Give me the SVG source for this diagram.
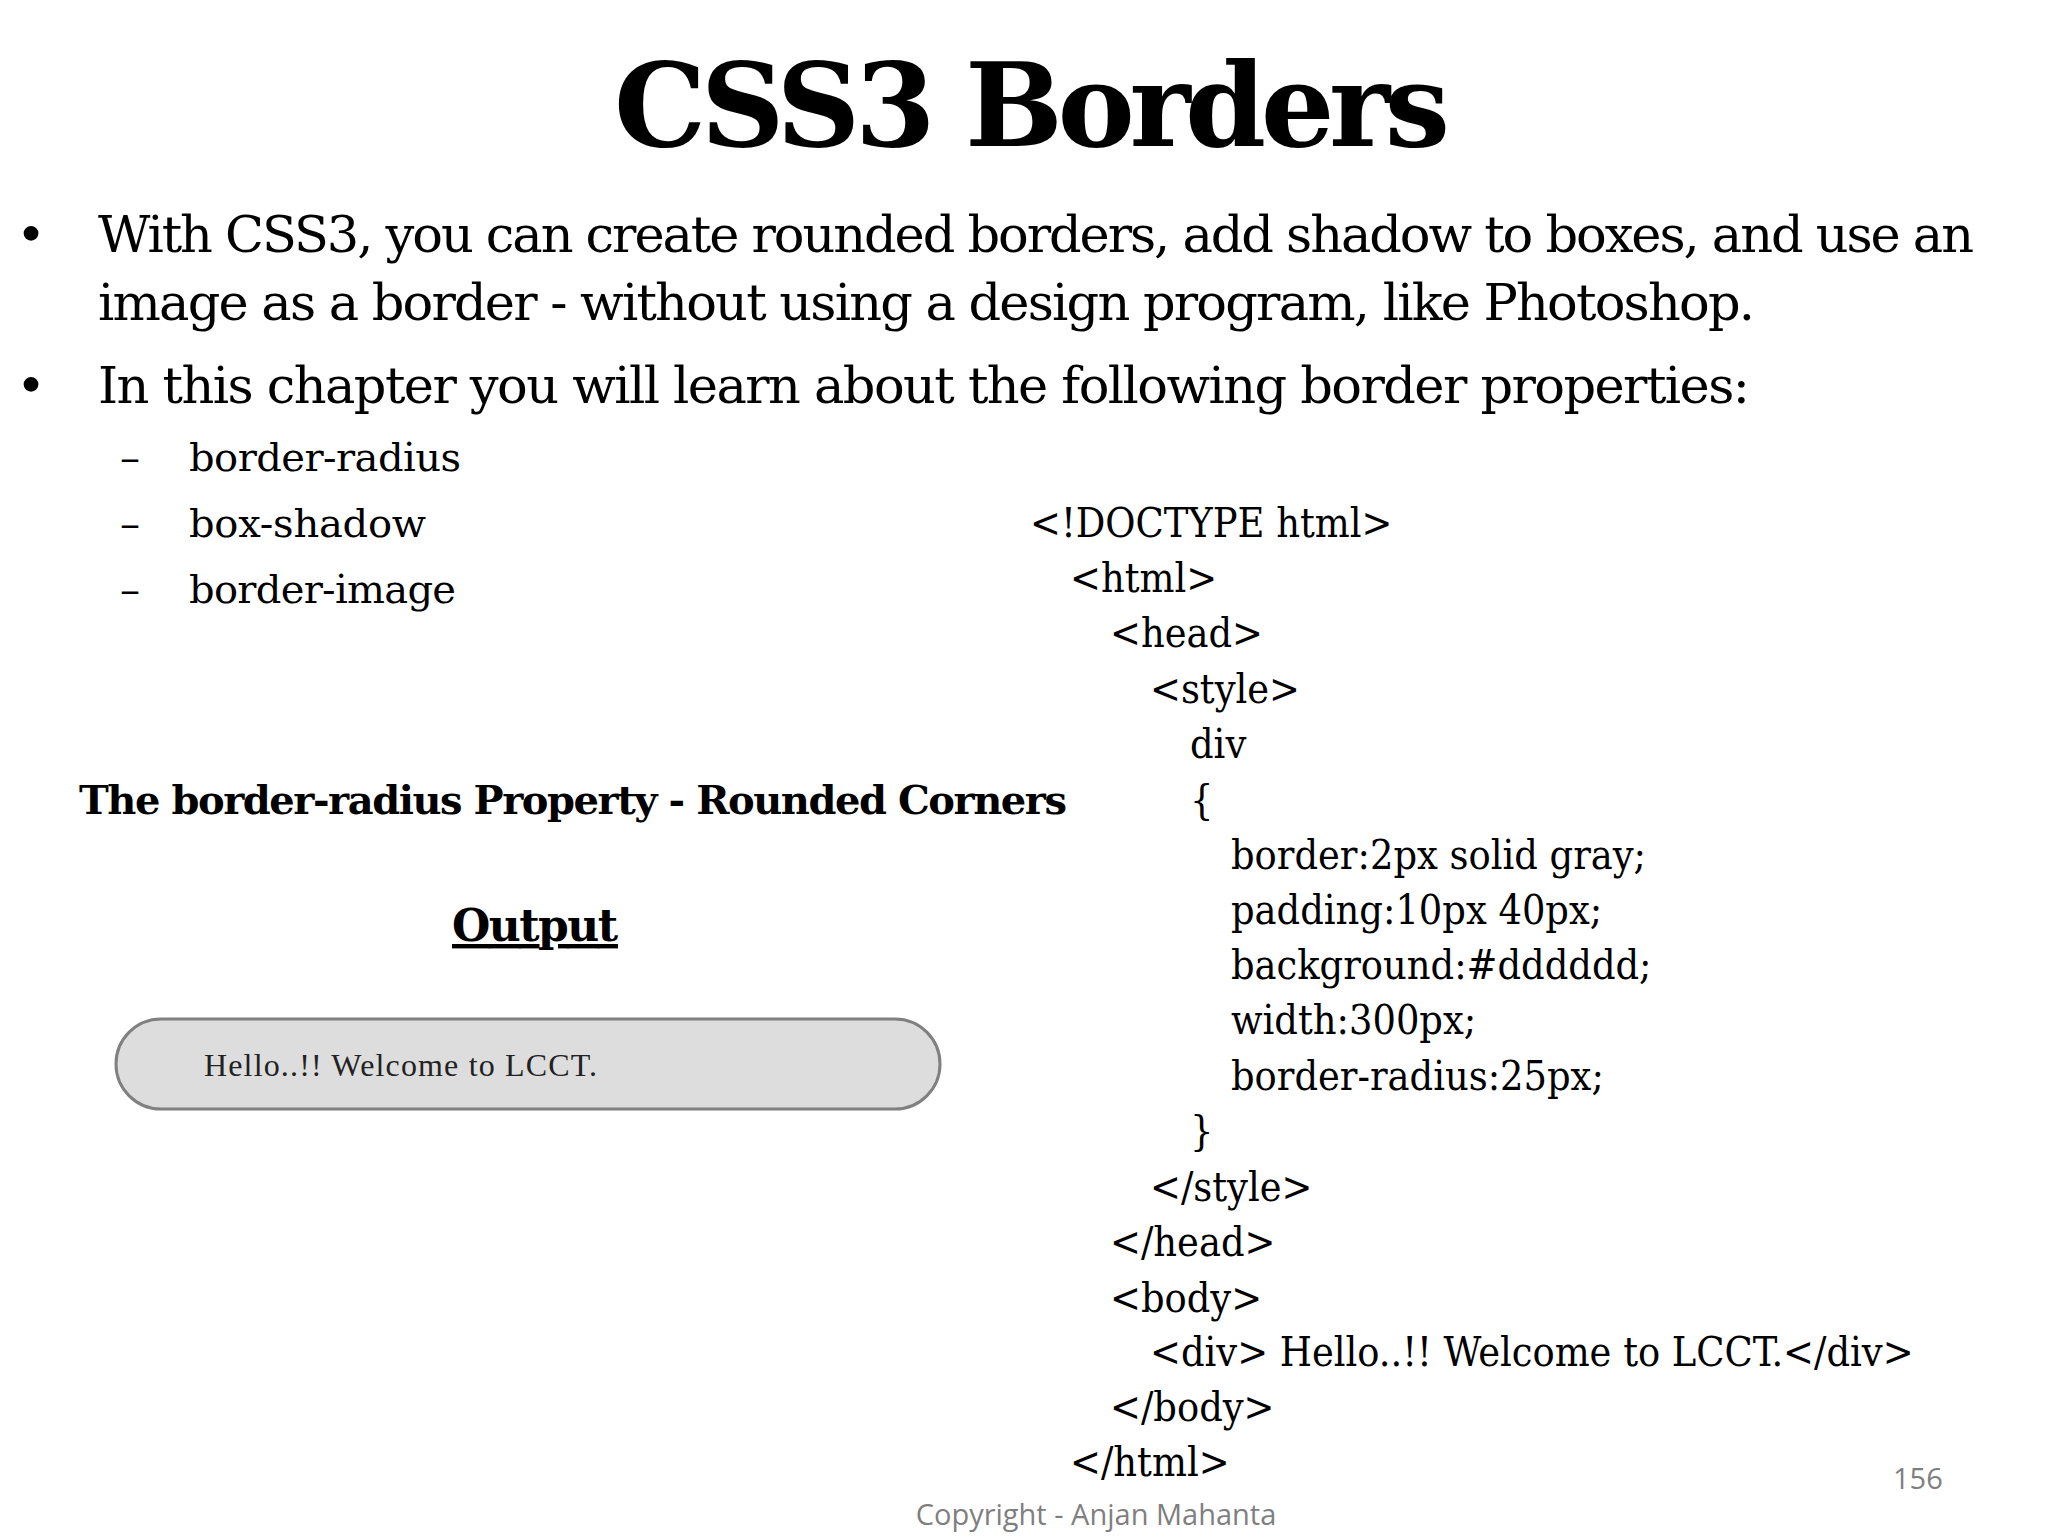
<svg xmlns="http://www.w3.org/2000/svg" width="2048" height="1536" viewBox="0 0 2048 1536">
<style>
.t{font-family:"DejaVu Serif","Liberation Serif",serif;fill:#000}
.b{font-size:51px}
.s{font-size:40px}
.c{font-family:"DejaVu Serif Condensed","DejaVu Serif",serif;font-size:41px}
.g{font-family:"Open Sans","Liberation Sans",sans-serif;font-size:29px;fill:#7f7f7f}
</style>
<rect width="2048" height="1536" fill="#fff"/>
<g id="title"><text class="t" x="1032" y="146" font-size="116" font-weight="bold" text-anchor="middle" textLength="836">CSS3 Borders</text></g>
<g id="bullets" class="t">
<text class="t b" x="16" y="252">•</text>
<text class="t b" x="98" y="252" textLength="1876">With CSS3, you can create rounded borders, add shadow to boxes, and use an</text>
<text class="t b" x="98" y="320" textLength="1657">image as a border - without using a design program, like Photoshop.</text>
<text class="t b" x="16" y="403">•</text>
<text class="t b" x="98" y="403" textLength="1652">In this chapter you will learn about the following border properties:</text>
<text class="t s" x="120" y="471">–</text><text class="t s" x="189" y="471" textLength="272">border-radius</text>
<text class="t s" x="120" y="537">–</text><text class="t s" x="189" y="537" textLength="237">box-shadow</text>
<text class="t s" x="120" y="603">–</text><text class="t s" x="189" y="603" textLength="267">border-image</text>
</g>
<g id="heading"><text class="t" x="79" y="814" font-size="40" font-weight="bold" textLength="988">The border-radius Property - Rounded Corners</text>
<text class="t" x="535" y="941" font-size="44" font-weight="bold" text-anchor="middle" text-decoration="underline" textLength="166">Output</text></g>
<g id="output"><rect x="116" y="1019" width="824" height="90" rx="45" fill="#dddddd" stroke="#808080" stroke-width="3"/>
<text x="204" y="1076" font-family="Liberation Serif,serif" font-size="32" fill="#222" textLength="393">Hello..!! Welcome to LCCT.</text></g>
<g id="code">
<text class="t c" x="1030" y="537">&lt;!DOCTYPE html&gt;</text>
<text class="t c" x="1070" y="592">&lt;html&gt;</text>
<text class="t c" x="1110" y="647">&lt;head&gt;</text>
<text class="t c" x="1150" y="703">&lt;style&gt;</text>
<text class="t c" x="1190" y="758">div</text>
<text class="t c" x="1190" y="814">{</text>
<text class="t c" x="1231" y="869">border:2px solid gray;</text>
<text class="t c" x="1231" y="924">padding:10px 40px;</text>
<text class="t c" x="1231" y="979">background:#dddddd;</text>
<text class="t c" x="1231" y="1034">width:300px;</text>
<text class="t c" x="1231" y="1090">border-radius:25px;</text>
<text class="t c" x="1190" y="1145">}</text>
<text class="t c" x="1150" y="1201">&lt;/style&gt;</text>
<text class="t c" x="1110" y="1256">&lt;/head&gt;</text>
<text class="t c" x="1110" y="1312">&lt;body&gt;</text>
<text class="t c" x="1150" y="1366">&lt;div&gt; Hello..!! Welcome to LCCT.&lt;/div&gt;</text>
<text class="t c" x="1110" y="1421">&lt;/body&gt;</text>
<text class="t c" x="1070" y="1476">&lt;/html&gt;</text>
</g>
<g id="footer"><text class="g" x="1893" y="1489">156</text>
<text class="g" x="1096" y="1525" text-anchor="middle">Copyright - Anjan Mahanta</text></g>
</svg>
